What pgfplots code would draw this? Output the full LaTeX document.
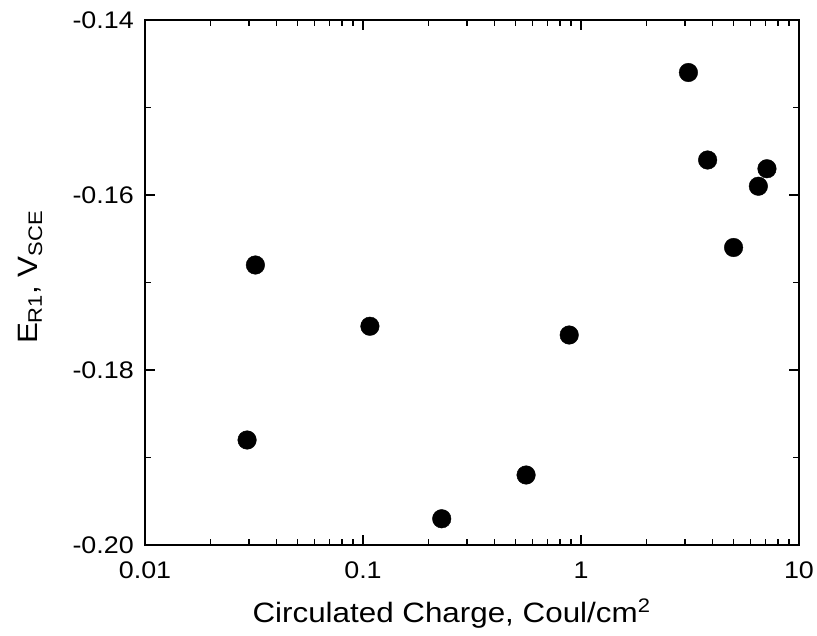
\documentclass[border=0pt]{standalone}
\usepackage{pgfplots}
\pgfplotsset{compat=1.18}
\usepackage{fontspec}
\setmainfont{Liberation Sans}[FakeStretch=1.12]
\begin{document}
\begin{tikzpicture}
\begin{axis}[
  name=ax,
  scale only axis, width=654pt, height=525pt,
  xmode=log, xmin=0.01, xmax=10, ymin=-0.20, ymax=-0.14,
  xtick={0.01,0.1,1,10}, xticklabels={0.01,0.1,1,10},
  minor xtick={0.02,0.03,0.04,0.05,0.06,0.07,0.08,0.09,0.2,0.3,0.4,0.5,0.6,0.7,0.8,0.9,2,3,4,5,6,7,8,9},
  ytick={-0.20,-0.18,-0.16,-0.14},
  minor ytick={-0.19,-0.17,-0.15},
  yticklabel style={/pgf/number format/fixed,/pgf/number format/fixed zerofill,/pgf/number format/precision=2,
     anchor=east, inner sep=0pt, xshift=-11pt},
  xticklabel style={anchor=north, inner sep=0pt, yshift=-17pt},
  /pgf/number format/assume math mode=true,
  tick align=inside, major tick length=10pt, minor tick length=6pt,
  every tick/.style={line width=1.3pt, black},
  axis line style={line width=1.6pt},
  tick label style={font=\fontsize{24}{24}\selectfont},
  label style={font=\fontsize{28}{28}\selectfont},
  xlabel={Circulated Charge, Coul/cm\textsuperscript{2}},
  ylabel={E\textsubscript{R1}, V\textsubscript{SCE}},
  xlabel style={at={(axis description cs:0.4687,0)}, anchor=base, yshift=-77pt},
  ylabel style={at={(axis description cs:-0.1651,0.51)}, anchor=base},
]
\addplot[only marks, mark=*, mark size=9.3pt, black] coordinates {
(0.0294,-0.188)
(0.0321,-0.168)
(0.1076,-0.175)
(0.2297,-0.197)
(0.560,-0.192)
(0.883,-0.176)
(3.11,-0.146)
(3.81,-0.156)
(5.01,-0.166)
(6.51,-0.159)
(7.13,-0.157)
};
\end{axis}
\pgfresetboundingbox
\path[use as bounding box] ([xshift=-145pt,yshift=-90pt]ax.south west) rectangle ([xshift=18pt,yshift=20pt]ax.north east);
\end{tikzpicture}
\end{document}
